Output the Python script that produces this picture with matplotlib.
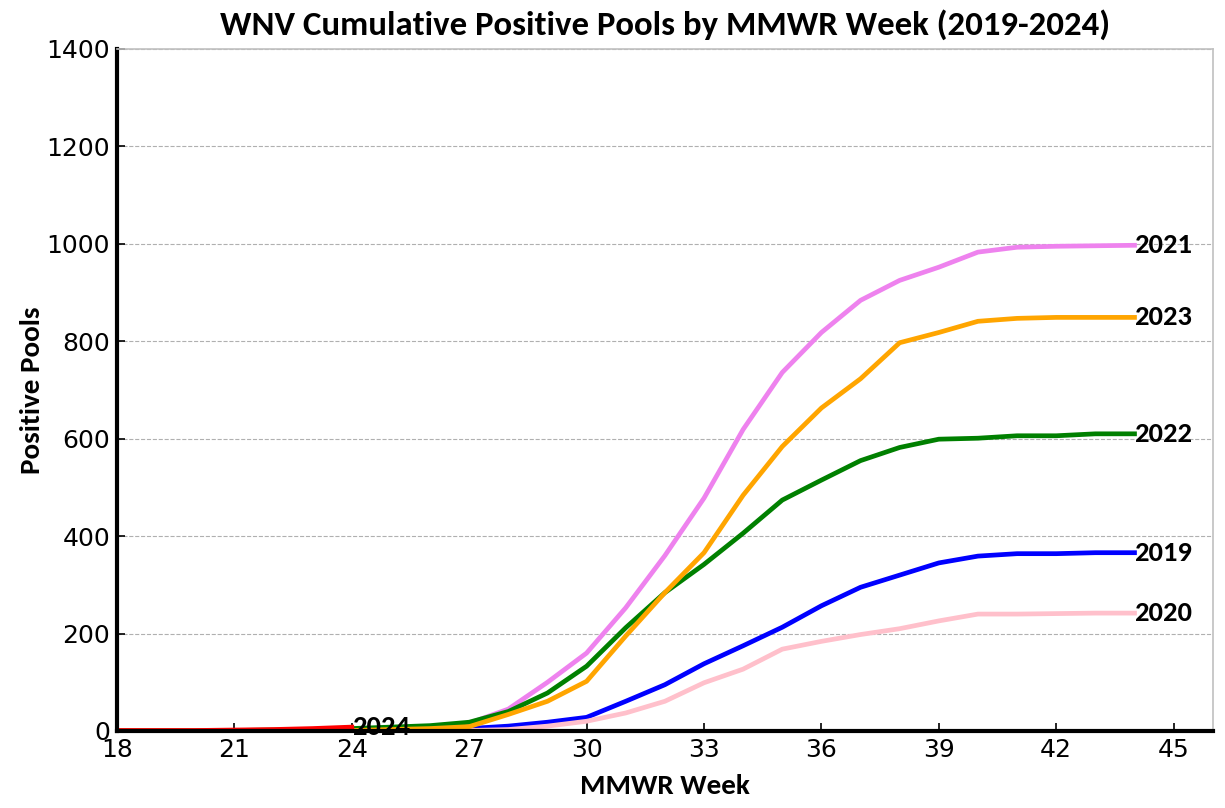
import matplotlib
matplotlib.use("Agg")
import matplotlib.pyplot as plt

# MMWR weeks 18..44
weeks = list(range(18, 45))

# cumulative positive pools per season
pools_2019 = [0, 0, 0, 0, 0, 0, 0, 0, 2, 5, 10, 18, 28, 61, 95, 138, 175, 213, 257, 295, 320, 345, 359, 364, 364, 366, 366]
pools_2020 = [0, 0, 0, 0, 0, 0, 0, 0, 0, 1, 3, 10, 20, 37, 61, 99, 127, 168, 184, 198, 210, 226, 240, 240, 241, 242, 242]
pools_2021 = [0, 0, 0, 0, 0, 0, 0, 1, 4, 16, 45, 100, 160, 253, 360, 478, 619, 736, 818, 884, 925, 952, 983, 993, 995, 996, 997]
pools_2022 = [0, 0, 0, 1, 2, 3, 5, 8, 11, 18, 40, 78, 133, 212, 284, 342, 406, 474, 515, 555, 582, 599, 601, 606, 606, 610, 610]
pools_2023 = [0, 0, 0, 0, 0, 0, 1, 3, 5, 9, 34, 61, 102, 195, 284, 366, 484, 584, 663, 723, 797, 818, 841, 847, 849, 849, 849]
weeks_2024 = list(range(18, 25))
pools_2024 = [1, 1, 1, 2, 3, 5, 8]

series = [
    ("2019", weeks, pools_2019, "blue"),
    ("2020", weeks, pools_2020, "pink"),
    ("2021", weeks, pools_2021, "violet"),
    ("2022", weeks, pools_2022, "green"),
    ("2023", weeks, pools_2023, "orange"),
    ("2024", weeks_2024, pools_2024, "red"),
]

label_font = ["Carlito", "Liberation Sans Narrow", "DejaVu Sans"]

fig = plt.figure(figsize=(12.25, 8.08), dpi=100)
ax = fig.add_axes([0.0955, 0.0953, 0.8945, 0.8441])

for year, x, y, color in series:
    ax.plot(x, y, color=color, linewidth=3.4)
    ax.text(x[-1], y[-1], year, fontsize=20.5, fontweight="bold",
            family=label_font, ha="left", va="center", color="black")

ax.set_xlim(18, 46)
ax.set_ylim(0, 1400)
ax.set_xticks(range(18, 46, 3))
ax.set_yticks(range(0, 1401, 200))
ax.tick_params(direction="in", labelsize=18, length=6, width=1.2, pad=5)
ax.yaxis.grid(True, linestyle="--", color="#b0b0b0", linewidth=0.8)
ax.set_axisbelow(True)

for side in ("left", "bottom"):
    ax.spines[side].set_linewidth(3)
    ax.spines[side].set_color("black")
for side in ("top", "right"):
    ax.spines[side].set_linewidth(1.2)
    ax.spines[side].set_color("#c0c0c0")

ax.set_title("WNV Cumulative Positive Pools by MMWR Week (2019-2024)",
             fontsize=25, fontweight="bold", family=label_font, pad=10)
ax.set_xlabel("MMWR Week", fontsize=21, fontweight="bold", family=label_font, labelpad=9)
ax.set_ylabel("Positive Pools", fontsize=21, fontweight="bold", family=label_font, labelpad=2)

fig.savefig("out.png", dpi=100)
